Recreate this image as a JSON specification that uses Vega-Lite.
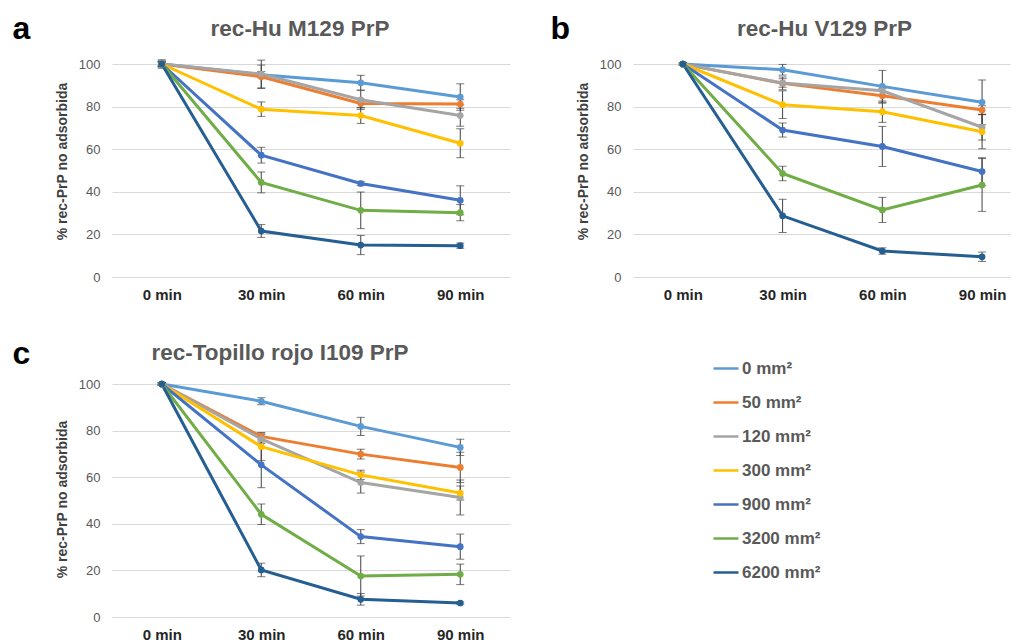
{
  "$schema": "https://vega.github.io/schema/vega-lite/v6.json",
  "padding": {"left": 12, "top": 12, "right": 5, "bottom": 5},
  "background": "white",
  "bounds": "flush",
  "columns": 2,
  "spacing": {"row": 107, "column": 123},
  "config": {
    "font": "Liberation Sans",
    "view": {"stroke": null},
    "title": {"font": "Liberation Sans", "fontSize": 22.5, "fontWeight": "bold", "color": "#595959", "anchor": "middle", "frame": "group", "baseline": "alphabetic", "offset": 0},
    "axis": {"labelFont": "Liberation Sans", "titleFont": "Liberation Sans"},
    "legend": {"orient": "none", "legendX": 600, "legendY": 290.5, "padding": 0, "labelFont": "Liberation Sans", "labelFontSize": 17, "labelFontWeight": "bold", "labelColor": "#595959", "symbolType": "stroke", "symbolStrokeWidth": 2.5, "symbolSize": 625, "rowPadding": 12, "labelOffset": 2}
  },
  "resolve": {"scale": {"color": "shared"}, "legend": {"color": "shared"}},
  "datasets": {
    "prp": [
      {"panel": "a", "series": "0 mm²", "min": 0, "value": 100, "err": 1.5},
      {"panel": "a", "series": "0 mm²", "min": 30, "value": 95, "err": 1.5},
      {"panel": "a", "series": "0 mm²", "min": 60, "value": 91.2, "err": 3.5},
      {"panel": "a", "series": "0 mm²", "min": 90, "value": 84.5, "err": 6.2},
      {"panel": "a", "series": "50 mm²", "min": 0, "value": 100, "err": 1},
      {"panel": "a", "series": "50 mm²", "min": 30, "value": 94, "err": 5.5},
      {"panel": "a", "series": "50 mm²", "min": 60, "value": 81.5, "err": 2},
      {"panel": "a", "series": "50 mm²", "min": 90, "value": 81.2, "err": 2},
      {"panel": "a", "series": "120 mm²", "min": 0, "value": 100, "err": 1},
      {"panel": "a", "series": "120 mm²", "min": 30, "value": 95.3, "err": 6.5},
      {"panel": "a", "series": "120 mm²", "min": 60, "value": 83.2, "err": 4.5},
      {"panel": "a", "series": "120 mm²", "min": 90, "value": 75.8, "err": 5},
      {"panel": "a", "series": "300 mm²", "min": 0, "value": 100, "err": 1},
      {"panel": "a", "series": "300 mm²", "min": 30, "value": 78.8, "err": 3.4},
      {"panel": "a", "series": "300 mm²", "min": 60, "value": 75.8, "err": 3.7},
      {"panel": "a", "series": "300 mm²", "min": 90, "value": 62.8, "err": 6.8},
      {"panel": "a", "series": "900 mm²", "min": 0, "value": 100, "err": 1},
      {"panel": "a", "series": "900 mm²", "min": 30, "value": 57.2, "err": 3.7},
      {"panel": "a", "series": "900 mm²", "min": 60, "value": 43.9, "err": 1},
      {"panel": "a", "series": "900 mm²", "min": 90, "value": 36, "err": 6.8},
      {"panel": "a", "series": "3200 mm²", "min": 0, "value": 100, "err": 1},
      {"panel": "a", "series": "3200 mm²", "min": 30, "value": 44.4, "err": 4.9},
      {"panel": "a", "series": "3200 mm²", "min": 60, "value": 31.3, "err": 8.6},
      {"panel": "a", "series": "3200 mm²", "min": 90, "value": 30.2, "err": 3.8},
      {"panel": "a", "series": "6200 mm²", "min": 0, "value": 100, "err": 2},
      {"panel": "a", "series": "6200 mm²", "min": 30, "value": 21.6, "err": 3},
      {"panel": "a", "series": "6200 mm²", "min": 60, "value": 15, "err": 4.5},
      {"panel": "a", "series": "6200 mm²", "min": 90, "value": 14.7, "err": 1.2},

      {"panel": "b", "series": "0 mm²", "min": 0, "value": 100, "err": 0.5},
      {"panel": "b", "series": "0 mm²", "min": 30, "value": 97.3, "err": 2.5},
      {"panel": "b", "series": "0 mm²", "min": 60, "value": 89.5, "err": 7.5},
      {"panel": "b", "series": "0 mm²", "min": 90, "value": 82, "err": 10.5},
      {"panel": "b", "series": "50 mm²", "min": 0, "value": 100, "err": 0.5},
      {"panel": "b", "series": "50 mm²", "min": 30, "value": 90.9, "err": 3},
      {"panel": "b", "series": "50 mm²", "min": 60, "value": 85.1, "err": 3.5},
      {"panel": "b", "series": "50 mm²", "min": 90, "value": 78.4, "err": 2},
      {"panel": "b", "series": "120 mm²", "min": 0, "value": 100, "err": 0.5},
      {"panel": "b", "series": "120 mm²", "min": 30, "value": 91.1, "err": 2},
      {"panel": "b", "series": "120 mm²", "min": 60, "value": 87.4, "err": 2},
      {"panel": "b", "series": "120 mm²", "min": 90, "value": 70.3, "err": 6},
      {"panel": "b", "series": "300 mm²", "min": 0, "value": 100, "err": 0.5},
      {"panel": "b", "series": "300 mm²", "min": 30, "value": 80.9, "err": 6.5},
      {"panel": "b", "series": "300 mm²", "min": 60, "value": 77.6, "err": 5},
      {"panel": "b", "series": "300 mm²", "min": 90, "value": 68.2, "err": 8},
      {"panel": "b", "series": "900 mm²", "min": 0, "value": 100, "err": 0.5},
      {"panel": "b", "series": "900 mm²", "min": 30, "value": 69, "err": 3.3},
      {"panel": "b", "series": "900 mm²", "min": 60, "value": 61.3, "err": 9.4},
      {"panel": "b", "series": "900 mm²", "min": 90, "value": 49.5, "err": 6.5},
      {"panel": "b", "series": "3200 mm²", "min": 0, "value": 100, "err": 0.5},
      {"panel": "b", "series": "3200 mm²", "min": 30, "value": 48.6, "err": 3.4},
      {"panel": "b", "series": "3200 mm²", "min": 60, "value": 31.5, "err": 5.9},
      {"panel": "b", "series": "3200 mm²", "min": 90, "value": 43.2, "err": 12.4},
      {"panel": "b", "series": "6200 mm²", "min": 0, "value": 100, "err": 0.5},
      {"panel": "b", "series": "6200 mm²", "min": 30, "value": 28.7, "err": 7.8},
      {"panel": "b", "series": "6200 mm²", "min": 60, "value": 12.2, "err": 1.5},
      {"panel": "b", "series": "6200 mm²", "min": 90, "value": 9.5, "err": 2.2},

      {"panel": "c", "series": "0 mm²", "min": 0, "value": 100, "err": 0.5},
      {"panel": "c", "series": "0 mm²", "min": 30, "value": 92.6, "err": 1.5},
      {"panel": "c", "series": "0 mm²", "min": 60, "value": 81.8, "err": 3.9},
      {"panel": "c", "series": "0 mm²", "min": 90, "value": 72.8, "err": 3.5},
      {"panel": "c", "series": "50 mm²", "min": 0, "value": 100, "err": 0.5},
      {"panel": "c", "series": "50 mm²", "min": 30, "value": 77.5, "err": 1.5},
      {"panel": "c", "series": "50 mm²", "min": 60, "value": 69.9, "err": 2.1},
      {"panel": "c", "series": "50 mm²", "min": 90, "value": 64.2, "err": 6.5},
      {"panel": "c", "series": "120 mm²", "min": 0, "value": 100, "err": 0.5},
      {"panel": "c", "series": "120 mm²", "min": 30, "value": 76.4, "err": 2},
      {"panel": "c", "series": "120 mm²", "min": 60, "value": 57.7, "err": 4.5},
      {"panel": "c", "series": "120 mm²", "min": 90, "value": 51.3, "err": 7.5},
      {"panel": "c", "series": "300 mm²", "min": 0, "value": 100, "err": 0.5},
      {"panel": "c", "series": "300 mm²", "min": 30, "value": 73.1, "err": 6},
      {"panel": "c", "series": "300 mm²", "min": 60, "value": 61, "err": 2},
      {"panel": "c", "series": "300 mm²", "min": 90, "value": 53.2, "err": 3},
      {"panel": "c", "series": "900 mm²", "min": 0, "value": 100, "err": 0.5},
      {"panel": "c", "series": "900 mm²", "min": 30, "value": 65.3, "err": 9.8},
      {"panel": "c", "series": "900 mm²", "min": 60, "value": 34.5, "err": 3},
      {"panel": "c", "series": "900 mm²", "min": 90, "value": 30.2, "err": 5.4},
      {"panel": "c", "series": "3200 mm²", "min": 0, "value": 100, "err": 0.5},
      {"panel": "c", "series": "3200 mm²", "min": 30, "value": 44.1, "err": 4.4},
      {"panel": "c", "series": "3200 mm²", "min": 60, "value": 17.6, "err": 8.6},
      {"panel": "c", "series": "3200 mm²", "min": 90, "value": 18.3, "err": 4.4},
      {"panel": "c", "series": "6200 mm²", "min": 0, "value": 100, "err": 0.5},
      {"panel": "c", "series": "6200 mm²", "min": 30, "value": 20.2, "err": 2.9},
      {"panel": "c", "series": "6200 mm²", "min": 60, "value": 7.6, "err": 2.5},
      {"panel": "c", "series": "6200 mm²", "min": 90, "value": 6, "err": 0.5}
    ]
  },
  "concat": [
    {
      "width": 398, "height": 213,
      "data": {"name": "prp"},
      "transform": [{"filter": "datum.panel === 'a'"}],
      "title": {"text": "rec-Hu M129 PrP", "dx": -11, "dy": 32},
      "encoding": {
        "x": {"field": "min", "type": "quantitative", "scale": {"domain": [-15, 105], "nice": false, "zero": false},
          "axis": {"values": [0, 30, 60, 90], "labelExpr": "datum.value + ' min'", "grid": false, "domain": false, "ticks": false, "labelFontSize": 15, "labelFontWeight": "bold", "labelColor": "#262626", "labelPadding": 10, "labelFlush": false, "title": null}},
        "y": {"field": "value", "type": "quantitative", "scale": {"domain": [0, 100], "nice": false},
          "axis": {"values": [0, 20, 40, 60, 80, 100], "grid": true, "gridColor": "#D9D9D9", "domain": false, "ticks": false, "labelColor": "#595959", "labelFontSize": 13, "labelPadding": 12, "title": "% rec-PrP no adsorbida", "titleFontSize": 14, "titleFontWeight": "bold", "titleColor": "#404040", "titleX": -50, "titleY": 97, "titleAlign": "center", "titleBaseline": "middle", "titleAngle": -90}}
      },
      "layer": [
        {"mark": {"type": "errorbar", "color": "#404040", "ticks": {"size": 8, "color": "#404040", "strokeWidth": 1}, "rule": {"color": "#404040", "strokeWidth": 1}},
          "encoding": {"x": {"field": "min", "type": "quantitative", "axis": null}, "yError": {"field": "err"}}},
        {"mark": {"type": "line", "strokeWidth": 3},
          "encoding": {"color": {"field": "series", "type": "nominal", "scale": {"domain": ["0 mm²", "50 mm²", "120 mm²", "300 mm²", "900 mm²", "3200 mm²", "6200 mm²"], "range": ["#5B9BD5", "#ED7D31", "#A5A5A5", "#FFC000", "#4472C4", "#70AD47", "#255E91"]}, "legend": {"title": null}}}},
        {"mark": {"type": "circle", "size": 45, "opacity": 1},
          "encoding": {
            "x": {"field": "min", "type": "quantitative", "axis": {"orient": "top", "domain": false, "ticks": false, "labels": false, "grid": false, "title": "a", "titleFontSize": 32, "titleFontWeight": "bold", "titleColor": "#000000", "titleX": -100, "titleY": -26, "titleAlign": "left", "titleBaseline": "alphabetic", "titleAngle": 0}},
            "color": {"field": "series", "type": "nominal", "scale": {"domain": ["0 mm²", "50 mm²", "120 mm²", "300 mm²", "900 mm²", "3200 mm²", "6200 mm²"], "range": ["#5B9BD5", "#ED7D31", "#A5A5A5", "#FFC000", "#4472C4", "#70AD47", "#255E91"]}, "legend": {"title": null}}}}
      ],
      "resolve": {"axis": {"x": "independent"}}
    },
    {
      "width": 377, "height": 213,
      "data": {"name": "prp"},
      "transform": [{"filter": "datum.panel === 'b'"}],
      "title": {"text": "rec-Hu V129 PrP", "dx": 3, "dy": 32},
      "encoding": {
        "x": {"field": "min", "type": "quantitative", "scale": {"domain": [-15, 98.4], "nice": false, "zero": false},
          "axis": {"values": [0, 30, 60, 90], "labelExpr": "datum.value + ' min'", "grid": false, "domain": false, "ticks": false, "labelFontSize": 15, "labelFontWeight": "bold", "labelColor": "#262626", "labelPadding": 10, "labelFlush": false, "title": null}},
        "y": {"field": "value", "type": "quantitative", "scale": {"domain": [0, 100], "nice": false},
          "axis": {"values": [0, 20, 40, 60, 80, 100], "grid": true, "gridColor": "#D9D9D9", "domain": false, "ticks": false, "labelColor": "#595959", "labelFontSize": 13, "labelPadding": 12, "title": "% rec-PrP no adsorbida", "titleFontSize": 14, "titleFontWeight": "bold", "titleColor": "#404040", "titleX": -50, "titleY": 97, "titleAlign": "center", "titleBaseline": "middle", "titleAngle": -90}}
      },
      "layer": [
        {"mark": {"type": "errorbar", "color": "#404040", "ticks": {"size": 8, "color": "#404040", "strokeWidth": 1}, "rule": {"color": "#404040", "strokeWidth": 1}},
          "encoding": {"x": {"field": "min", "type": "quantitative", "axis": null}, "yError": {"field": "err"}}},
        {"mark": {"type": "line", "strokeWidth": 3},
          "encoding": {"color": {"field": "series", "type": "nominal", "scale": {"domain": ["0 mm²", "50 mm²", "120 mm²", "300 mm²", "900 mm²", "3200 mm²", "6200 mm²"], "range": ["#5B9BD5", "#ED7D31", "#A5A5A5", "#FFC000", "#4472C4", "#70AD47", "#255E91"]}, "legend": {"title": null}}}},
        {"mark": {"type": "circle", "size": 45, "opacity": 1},
          "encoding": {
            "x": {"field": "min", "type": "quantitative", "axis": {"orient": "top", "domain": false, "ticks": false, "labels": false, "grid": false, "title": "b", "titleFontSize": 32, "titleFontWeight": "bold", "titleColor": "#000000", "titleX": -83, "titleY": -26, "titleAlign": "left", "titleBaseline": "alphabetic", "titleAngle": 0}},
            "color": {"field": "series", "type": "nominal", "scale": {"domain": ["0 mm²", "50 mm²", "120 mm²", "300 mm²", "900 mm²", "3200 mm²", "6200 mm²"], "range": ["#5B9BD5", "#ED7D31", "#A5A5A5", "#FFC000", "#4472C4", "#70AD47", "#255E91"]}, "legend": {"title": null}}}}
      ],
      "resolve": {"axis": {"x": "independent"}}
    },
    {
      "width": 398, "height": 233,
      "data": {"name": "prp"},
      "transform": [{"filter": "datum.panel === 'c'"}],
      "title": {"text": "rec-Topillo rojo I109 PrP", "dx": -31, "dy": 31},
      "encoding": {
        "x": {"field": "min", "type": "quantitative", "scale": {"domain": [-15, 105], "nice": false, "zero": false},
          "axis": {"values": [0, 30, 60, 90], "labelExpr": "datum.value + ' min'", "grid": false, "domain": false, "ticks": false, "labelFontSize": 15, "labelFontWeight": "bold", "labelColor": "#262626", "labelPadding": 10, "labelFlush": false, "title": null}},
        "y": {"field": "value", "type": "quantitative", "scale": {"domain": [0, 100], "nice": false},
          "axis": {"values": [0, 20, 40, 60, 80, 100], "grid": true, "gridColor": "#D9D9D9", "domain": false, "ticks": false, "labelColor": "#595959", "labelFontSize": 13, "labelPadding": 12, "title": "% rec-PrP no adsorbida", "titleFontSize": 14, "titleFontWeight": "bold", "titleColor": "#404040", "titleX": -50, "titleY": 115, "titleAlign": "center", "titleBaseline": "middle", "titleAngle": -90}}
      },
      "layer": [
        {"mark": {"type": "errorbar", "color": "#404040", "ticks": {"size": 8, "color": "#404040", "strokeWidth": 1}, "rule": {"color": "#404040", "strokeWidth": 1}},
          "encoding": {"x": {"field": "min", "type": "quantitative", "axis": null}, "yError": {"field": "err"}}},
        {"mark": {"type": "line", "strokeWidth": 3},
          "encoding": {"color": {"field": "series", "type": "nominal", "scale": {"domain": ["0 mm²", "50 mm²", "120 mm²", "300 mm²", "900 mm²", "3200 mm²", "6200 mm²"], "range": ["#5B9BD5", "#ED7D31", "#A5A5A5", "#FFC000", "#4472C4", "#70AD47", "#255E91"]}, "legend": {"title": null}}}},
        {"mark": {"type": "circle", "size": 45, "opacity": 1},
          "encoding": {
            "x": {"field": "min", "type": "quantitative", "axis": {"orient": "top", "domain": false, "ticks": false, "labels": false, "grid": false, "title": "c", "titleFontSize": 32, "titleFontWeight": "bold", "titleColor": "#000000", "titleX": -100, "titleY": -21, "titleAlign": "left", "titleBaseline": "alphabetic", "titleAngle": 0}},
            "color": {"field": "series", "type": "nominal", "scale": {"domain": ["0 mm²", "50 mm²", "120 mm²", "300 mm²", "900 mm²", "3200 mm²", "6200 mm²"], "range": ["#5B9BD5", "#ED7D31", "#A5A5A5", "#FFC000", "#4472C4", "#70AD47", "#255E91"]}, "legend": {"title": null}}}}
      ],
      "resolve": {"axis": {"x": "independent"}}
    }
  ]
}
